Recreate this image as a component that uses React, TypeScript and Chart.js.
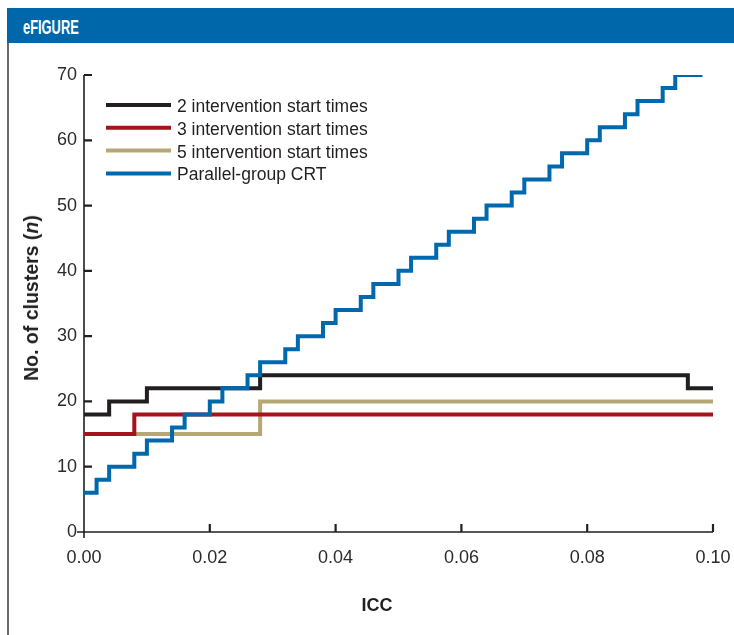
import React, { useEffect, useRef } from "react";
import { Chart, registerables } from "chart.js";

Chart.register(...registerables);

// ---------- data ----------
const seriesLabels = [
  "2 intervention start times",
  "3 intervention start times",
  "5 intervention start times",
  "Parallel-group CRT",
];
const seriesColors = ["#231f20", "#a3141c", "#b6a874", "#0068ad"];

const twoStartIcc = [0, 0.004, 0.01, 0.028, 0.096, 0.1];
const twoStartN = [18, 20, 22, 24, 22, 22];

const threeStartIcc = [0, 0.008, 0.1];
const threeStartN = [15, 18, 18];

const fiveStartIcc = [0, 0.028, 0.1];
const fiveStartN = [15, 20, 20];

const parallelIcc = [
  0, 0.002, 0.004, 0.008, 0.01, 0.014, 0.016, 0.02, 0.022, 0.026, 0.028, 0.032,
  0.034, 0.038, 0.04, 0.044, 0.046, 0.05, 0.052, 0.056, 0.058, 0.062, 0.064,
  0.068, 0.07, 0.074, 0.076, 0.08, 0.082, 0.086, 0.088, 0.092, 0.094, 0.098,
];
const parallelN = [
  6, 8, 10, 12, 14, 16, 18, 20, 22, 24, 26, 28, 30, 32, 34, 36, 38, 40, 42, 44,
  46, 48, 50, 52, 54, 56, 58, 60, 62, 64, 66, 68, 70, 72,
];

const xTicks = [0, 0.02, 0.04, 0.06, 0.08, 0.1];
const yTicks = [0, 10, 20, 30, 40, 50, 60, 70];

const FONT = "'Liberation Sans', Arial, Helvetica, sans-serif";
const INK = "#231f20";

const toPoints = (xs: number[], ys: number[]) =>
  xs.map((x, i) => ({ x, y: ys[i] }));

// axes, inward tick marks and legend drawn with the chart's scales
const decorPlugin = {
  id: "decor",
  beforeDatasetsDraw(chart: any) {
    const { ctx, chartArea } = chart;
    const xs = chart.scales.x;
    const ys = chart.scales.y;
    ctx.save();
    ctx.strokeStyle = INK;
    ctx.lineWidth = 1.6;
    ctx.lineCap = "butt";
    ctx.beginPath();
    ctx.moveTo(chartArea.left, ys.getPixelForValue(70));
    ctx.lineTo(chartArea.left, chartArea.bottom + 6);
    ctx.moveTo(chartArea.left - 7, chartArea.bottom);
    ctx.lineTo(xs.getPixelForValue(0.1), chartArea.bottom);
    ctx.stroke();
    ctx.lineWidth = 2.2;
    ctx.beginPath();
    yTicks.forEach((v) => {
      if (v === 0) return;
      const py = ys.getPixelForValue(v);
      ctx.moveTo(chartArea.left, py);
      ctx.lineTo(chartArea.left + 8, py);
    });
    xTicks.forEach((v) => {
      if (v === 0) return;
      const px = xs.getPixelForValue(v);
      ctx.moveTo(px, chartArea.bottom);
      ctx.lineTo(px, chartArea.bottom - 8);
    });
    ctx.stroke();
    ctx.restore();
  },
  afterDatasetsDraw(chart: any) {
    const { ctx, chartArea } = chart;
    ctx.save();
    const x0 = chartArea.left + 22;
    const x1 = chartArea.left + 87;
    const tx = chartArea.left + 93;
    chart.data.datasets.forEach((ds: any, i: number) => {
      const yRow = chartArea.top + 30 + i * 22.8;
      ctx.strokeStyle = ds.borderColor;
      ctx.lineWidth = 4;
      ctx.lineCap = "butt";
      ctx.beginPath();
      ctx.moveTo(x0, yRow);
      ctx.lineTo(x1, yRow);
      ctx.stroke();
      ctx.fillStyle = INK;
      ctx.font = `17.5px ${FONT}`;
      ctx.textAlign = "left";
      ctx.textBaseline = "alphabetic";
      ctx.fillText(ds.label, tx, yRow + 7);
    });
    ctx.restore();
  },
};

function StepChart() {
  const ref = useRef<HTMLCanvasElement | null>(null);
  useEffect(() => {
    if (!ref.current) return;
    const mk = (i: number, xs: number[], ys: number[], order: number) => ({
      label: seriesLabels[i],
      data: toPoints(xs, ys),
      borderColor: seriesColors[i],
      backgroundColor: seriesColors[i],
      borderWidth: 4,
      pointRadius: 0,
      pointHoverRadius: 0,
      stepped: "before" as const,
      fill: false,
      borderJoinStyle: "miter" as const,
      borderCapStyle: "butt" as const,
      order,
    });
    const chart = new Chart(ref.current, {
      type: "line",
      data: {
        datasets: [
          mk(0, twoStartIcc, twoStartN, 1),
          mk(1, threeStartIcc, threeStartN, 2),
          mk(2, fiveStartIcc, fiveStartN, 3),
          mk(3, parallelIcc, parallelN, 0),
        ],
      },
      options: {
        animation: false,
        responsive: false,
        devicePixelRatio: 1,
        layout: { padding: { left: 0, right: 21, top: 33, bottom: 53 } },
        plugins: {
          legend: { display: false },
          tooltip: { enabled: false },
          title: { display: false },
        },
        scales: {
          x: {
            type: "linear",
            min: 0,
            max: 0.1,
            grid: { display: false, drawTicks: false },
            border: { display: false },
            afterBuildTicks: (scale: any) => {
              scale.ticks = xTicks.map((v) => ({ value: v }));
            },
            afterFit: (scale: any) => {
              scale.height = 50;
              scale.paddingLeft = 0;
              scale.paddingRight = 0;
            },
            ticks: {
              padding: 15,
              autoSkip: false,
              maxRotation: 0,
              color: "#2b2b2b",
              font: { family: FONT, size: 18 },
              callback: (v: any) => Number(v).toFixed(2),
            },
          },
          y: {
            type: "linear",
            min: 0,
            max: 70,
            grid: { display: false, drawTicks: false },
            border: { display: false },
            afterBuildTicks: (scale: any) => {
              scale.ticks = yTicks.map((v) => ({ value: v }));
            },
            afterFit: (scale: any) => {
              scale.width = 84;
              scale.paddingTop = 0;
              scale.paddingBottom = 0;
            },
            ticks: {
              padding: 7,
              autoSkip: false,
              color: "#2b2b2b",
              font: { family: FONT, size: 18 },
              callback: (v: any) => String(v),
            },
          },
        },
      },
      plugins: [decorPlugin],
    });
    return () => chart.destroy();
  }, []);
  return (
    <canvas
      ref={ref}
      width={734}
      height={593}
      style={{ position: "absolute", left: 0, top: 42, width: 734, height: 593 }}
    />
  );
}

export default function App() {
  return (
    <div
      style={{
        position: "fixed",
        left: 0,
        top: 0,
        width: 734,
        height: 635,
        background: "#ffffff",
        overflow: "hidden",
        fontFamily: FONT,
        color: INK,
      }}
    >
      <div
        style={{
          position: "absolute",
          left: 7,
          top: 8,
          width: 727,
          height: 35,
          background: "#0067ab",
        }}
      >
        <div
          style={{
            position: "absolute",
            left: 16,
            top: 8,
            fontWeight: "bold",
            fontSize: 19.5,
            lineHeight: "22px",
            color: "#ffffff",
            transform: "scaleX(0.66)",
            transformOrigin: "left center",
            whiteSpace: "nowrap",
          }}
        >
          eFIGURE
        </div>
      </div>
      <div
        style={{
          position: "absolute",
          left: 7,
          top: 43,
          width: 2,
          height: 592,
          background: "#6a6a6a",
        }}
      />
      <StepChart />
      <div
        style={{
          position: "absolute",
          left: 31,
          top: 298,
          transform: "translate(-50%, -50%) rotate(-90deg)",
          whiteSpace: "nowrap",
          fontWeight: "bold",
          fontSize: 19.5,
          lineHeight: "22px",
        }}
      >
        No. of clusters (<i>n</i>)
      </div>
      <div
        style={{
          position: "absolute",
          left: 377,
          top: 605,
          transform: "translate(-50%, -50%)",
          whiteSpace: "nowrap",
          fontWeight: "bold",
          fontSize: 18,
          lineHeight: "20px",
        }}
      >
        ICC
      </div>
    </div>
  );
}
